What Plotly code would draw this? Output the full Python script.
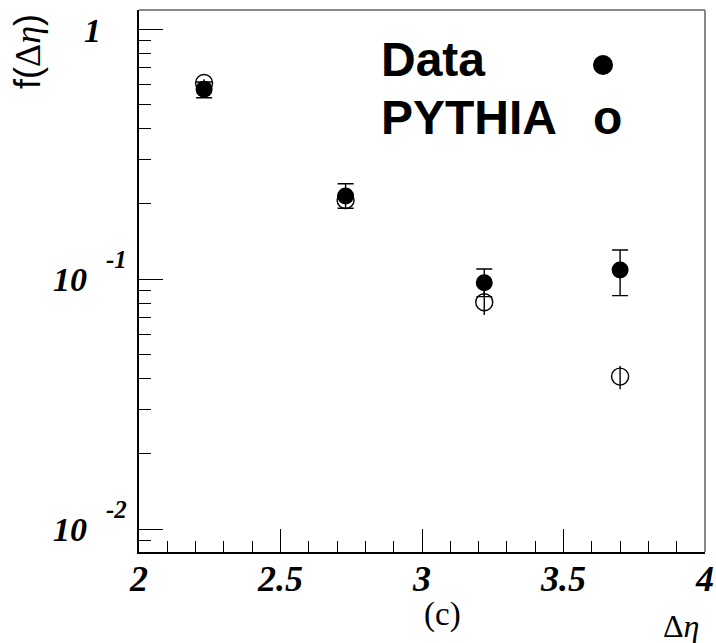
import math
import plotly.graph_objects as go

# ---- data ----
x_bins = [2.23, 2.73, 3.22, 3.70]
data_y = [0.574, 0.215, 0.0966, 0.1086]
data_hi = [0.614, 0.2405, 0.1096, 0.1306]
data_lo = [0.531, 0.1918, 0.0850, 0.0858]
pythia_y = [0.608, 0.207, 0.0807, 0.0407]
pythia_hi = [0.630, 0.215, 0.0907, 0.0449]
pythia_lo = [0.587, 0.199, 0.0718, 0.0362]

x_tick_vals = [2, 2.5, 3, 3.5, 4]
x_tick_text = ["2", "2.5", "3", "3.5", "4"]
y_major_vals = [0.01, 0.1, 1]
y_major_base = ["10", "10", "1"]
y_major_exp = ["-2", "-1", ""]

legend_labels = ["Data", "PYTHIA"]

W, H = 716, 643
PLOT_L, PLOT_R, PLOT_T, PLOT_B = 139, 705, 10, 552   # page pixels
L, T = PLOT_L, PLOT_T
R, B = W - PLOT_R, H - PLOT_B
PW, PH = PLOT_R - PLOT_L, PLOT_B - PLOT_T


def px_x(p):
    return (p - PLOT_L) / PW


def px_y(p):
    return (PLOT_B - p) / PH


y_minor_vals = [m * 10 ** e for e in (-3, -2, -1, 0) for m in range(2, 10)
                if 10 ** -2.092 < m * 10 ** e < 10 ** 0.076]

fig = go.Figure()

fig.add_trace(go.Scatter(
    x=x_bins, y=pythia_y, mode="markers", name="PYTHIA",
    marker=dict(symbol="circle-open", size=17, color="black", line=dict(width=1.4, color="black")),
    error_y=dict(type="data", symmetric=False,
                 array=[h - v for h, v in zip(pythia_hi, pythia_y)],
                 arrayminus=[v - l for v, l in zip(pythia_y, pythia_lo)],
                 width=0, thickness=1.4, color="black"),
    showlegend=False,
))
fig.add_trace(go.Scatter(
    x=x_bins, y=data_y, mode="markers", name="Data",
    marker=dict(symbol="circle", size=17, color="black"),
    error_y=dict(type="data", symmetric=False,
                 array=[h - v for h, v in zip(data_hi, data_y)],
                 arrayminus=[v - l for v, l in zip(data_y, data_lo)],
                 width=8, thickness=1.4, color="black"),
    showlegend=False,
))

num_font = dict(family="Liberation Serif", size=36, color="black", weight="bold", style="italic")

fig.update_xaxes(
    range=[2, 4], showgrid=False, zeroline=False, automargin=False,
    showline=True, linecolor="black", linewidth=2,
    tickmode="array", tickvals=x_tick_vals, ticktext=x_tick_text,
    ticks="inside", ticklen=23, tickwidth=1, tickcolor="black",
    tickfont=num_font, ticklabelstandoff=-6,
    minor=dict(tickmode="linear", tick0=2, dtick=0.1, ticks="inside",
               ticklen=11, tickwidth=1, tickcolor="black", showgrid=False),
)
fig.update_yaxes(
    type="log", range=[-2.092, 0.076], showgrid=False, zeroline=False, automargin=False,
    showline=True, linecolor="black", linewidth=2,
    tickmode="array", tickvals=y_major_vals, showticklabels=False,
    ticks="inside", ticklen=24, tickwidth=1, tickcolor="black",
    minor=dict(tickmode="array", tickvals=y_minor_vals, ticks="inside",
               ticklen=12, tickwidth=1, tickcolor="black", showgrid=False),
)

annotations = []
for v, base, ex in zip(y_major_vals, y_major_base, y_major_exp):
    if ex:
        annotations.append(dict(xref="paper", yref="y", x=0, y=math.log10(v),
                                text="<b><i>%s</i></b>" % base, showarrow=False,
                                xanchor="right", yanchor="middle", xshift=-50,
                                font=dict(family="Liberation Serif", size=34, color="black")))
        annotations.append(dict(xref="paper", yref="y", x=0, y=math.log10(v),
                                text="<b><i>%s</i></b>" % ex, showarrow=False,
                                xanchor="left", yanchor="middle", xshift=-35, yshift=20,
                                font=dict(family="Liberation Serif", size=25, color="black")))
    else:
        annotations.append(dict(xref="paper", yref="y", x=0, y=math.log10(v),
                                text="<b><i>%s</i></b>" % base, showarrow=False,
                                xanchor="right", yanchor="middle", xshift=-36, yshift=-1,
                                font=dict(family="Liberation Serif", size=34, color="black")))

# legend texts
annotations.append(dict(xref="paper", yref="paper", x=px_x(379), y=px_y(60),
                        text="<b>%s</b>" % legend_labels[0], showarrow=False,
                        xanchor="left", yanchor="middle",
                        font=dict(family="Liberation Sans", size=48, color="black")))
annotations.append(dict(xref="paper", yref="paper", x=px_x(379), y=px_y(117),
                        text="<b>%s</b>" % legend_labels[1], showarrow=False,
                        xanchor="left", yanchor="middle",
                        font=dict(family="Liberation Sans", size=48, color="black")))
annotations.append(dict(xref="paper", yref="paper", x=px_x(607), y=px_y(118),
                        text="<b>o</b>", showarrow=False,
                        xanchor="center", yanchor="middle",
                        font=dict(family="Liberation Sans", size=48, color="black")))

# (c) label and axis titles
annotations.append(dict(xref="paper", yref="paper", x=px_x(442), y=px_y(614),
                        text="(c)", showarrow=False, xanchor="center", yanchor="middle",
                        font=dict(family="Liberation Serif", size=33, color="black")))
annotations.append(dict(xref="paper", yref="paper", x=px_x(681), y=px_y(626),
                        text="Δ<i>η</i>", showarrow=False, xanchor="center", yanchor="middle",
                        font=dict(family="Liberation Serif", size=32, color="black")))
annotations.append(dict(xref="paper", yref="paper", x=px_x(28), y=px_y(52),
                        text='f(<span style="font-family:Liberation Serif">Δ<i>η</i></span>)',
                        showarrow=False, xanchor="center", yanchor="middle", textangle=-90,
                        font=dict(family="Liberation Sans", size=36, color="black")))

shapes = [
    dict(type="line", xref="paper", yref="paper", x0=0, x1=1, y0=1, y1=1,
         line=dict(color="#888888", width=2)),
    dict(type="line", xref="paper", yref="paper", x0=1, x1=1, y0=0, y1=1,
         line=dict(color="#888888", width=2)),
    dict(type="circle", xref="paper", yref="paper", xsizemode="pixel", ysizemode="pixel",
         xanchor=px_x(603), yanchor=px_y(65), x0=-10, x1=10, y0=-10, y1=10,
         fillcolor="black", line=dict(width=0)),
]

fig.update_layout(
    width=W, height=H, autosize=False,
    margin=dict(l=L, r=R, t=T, b=B, pad=0, autoexpand=False),
    paper_bgcolor="white", plot_bgcolor="white",
    annotations=annotations, shapes=shapes, showlegend=False,
)

fig.write_html(
    "out.html",
    config={"displayModeBar": False, "responsive": False},
    post_script="document.body.style.margin='0';document.body.style.padding='0';"
                "document.body.style.overflow='hidden';"
                "document.documentElement.style.overflow='hidden';",
)
